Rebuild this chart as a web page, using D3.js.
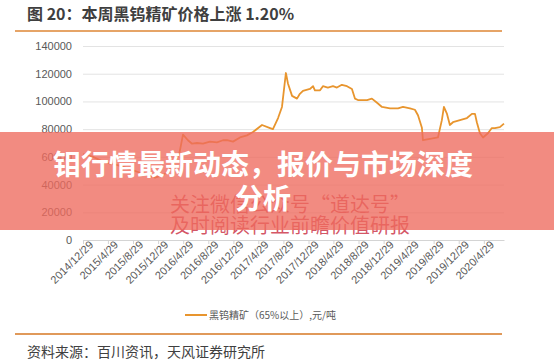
<!DOCTYPE html>
<html lang="zh-CN">
  <head>
    <meta charset="UTF-8" />
    <title>本周黑钨精矿价格上涨</title>
    <style>
      body { margin: 0; background: #fff; }
      svg { display: block; font-family: "Liberation Sans", "Noto Sans CJK SC", sans-serif; }
    </style>
  </head>
  <body>
    <script src="https://d3js.org/d3.v7.min.js"></script>
    <script>
      const width = 554
      const height = 362

      // 黑钨精矿(65%以上) 价格, 元/吨
      const dates = [
        "2014-12-29", "2015-02-16", "2015-04-13", "2015-06-15", "2015-08-17", "2015-10-12",
        "2015-12-14", "2016-01-25", "2016-03-07", "2016-04-11", "2016-04-28", "2016-05-22",
        "2016-06-11", "2016-07-05", "2016-08-03", "2016-09-06", "2016-10-10", "2016-11-08",
        "2016-11-28", "2016-12-27", "2017-01-30", "2017-03-05", "2017-04-03", "2017-05-17",
        "2017-06-25", "2017-07-09", "2017-08-03", "2017-08-22", "2017-09-10", "2017-09-20",
        "2017-10-10", "2017-11-03", "2017-11-17", "2017-12-02", "2018-01-05", "2018-01-20",
        "2018-01-29", "2018-02-23", "2018-03-09", "2018-04-02", "2018-04-27", "2018-05-16",
        "2018-06-09", "2018-07-04", "2018-07-28", "2018-08-12", "2018-08-26", "2018-10-09",
        "2018-11-02", "2018-11-27", "2018-12-21", "2019-01-29", "2019-03-09", "2019-04-02",
        "2019-05-06", "2019-05-30", "2019-06-14", "2019-07-03", "2019-07-08", "2019-08-11",
        "2019-09-19", "2019-10-08", "2019-10-18", "2019-11-02", "2019-11-16", "2019-12-01",
        "2020-01-04", "2020-02-07", "2020-03-02", "2020-03-17", "2020-03-26", "2020-04-10",
        "2020-04-25", "2020-05-19", "2020-06-07", "2020-06-22", "2020-07-16", "2020-08-05"
      ]
      const prices = [
        62000, 60000, 56000, 54000, 51000, 48000,
        45000, 47000, 53000, 63000, 76000, 72000,
        69500, 70000, 69500, 71000, 70500, 72000,
        72000, 71000, 74000, 75500, 77900, 83000,
        80800, 80000, 88000, 96000, 120500, 113000,
        104000, 102000, 105500, 107600, 109000, 111000,
        108000, 108000, 111000, 110000, 111000, 110000,
        112000, 111000, 109000, 102000, 101000, 101000,
        102000, 99000, 96000, 95000, 95000, 96000,
        95000, 94000, 90000, 81000, 72000, 73000,
        74000, 86500, 96000, 91000, 83000, 85000,
        86500, 88000, 91000, 91000, 85000, 77000,
        74000, 77000, 80800, 80800, 81500, 84000
      ]
      const xTickLabels = [
        "2014/12/29", "2015/4/29", "2015/8/29", "2015/12/29", "2016/4/29", "2016/8/29",
        "2016/12/29", "2017/4/29", "2017/8/29", "2017/12/29", "2018/4/29", "2018/8/29",
        "2018/12/29", "2019/4/29", "2019/8/29", "2019/12/29", "2020/4/29"
      ]
      const yTicks = [0, 20000, 40000, 60000, 80000, 100000, 120000, 140000]

      const parseDate = d3.timeParse("%Y-%m-%d")
      const parseTick = d3.timeParse("%Y/%m/%d")
      const data = dates.map((d, i) => ({ date: parseDate(d), value: prices[i] }))

      const svg = d3.select("body").append("svg")
        .attr("width", width)
        .attr("height", height)

      // 标题
      svg.append("text")
        .attr("x", 27)
        .attr("y", 20)
        .attr("fill", "#3f3f3f")
        .style("font-family", "'Noto Sans CJK SC', sans-serif")
        .style("font-size", "16px")
        .style("font-weight", "bold")
        .text("图 20：本周黑钨精矿价格上涨 1.20%")

      svg.append("line")
        .attr("x1", 15).attr("x2", 502)
        .attr("y1", 31).attr("y2", 31)
        .attr("stroke", "#e6a467")
        .attr("stroke-width", 2)

      const x = d3.scaleTime()
        .domain([parseDate("2014-12-29"), parseDate("2020-08-05")])
        .range([83, 504])

      const y = d3.scaleLinear()
        .domain([0, 140000])
        .range([240, 46])

      // y 轴 + 网格线
      const yAxis = svg.append("g")
        .attr("transform", "translate(83,0)")
        .call(d3.axisLeft(y).tickValues(yTicks).tickSize(-(504 - 83)).tickPadding(11).tickFormat(d3.format("d")))
      yAxis.select(".domain").remove()
      yAxis.selectAll(".tick line").attr("stroke", "#e3e3e3")
      yAxis.selectAll(".tick text")
        .attr("fill", "#595959")
        .style("font-size", "11px")

      // x 轴
      const tickDates = xTickLabels.map(parseTick)
      const xAxis = svg.append("g")
        .attr("transform", "translate(0,240)")
        .call(d3.axisBottom(x).tickValues(tickDates).tickSize(4).tickSizeOuter(0)
          .tickFormat((d, i) => xTickLabels[i]))
      xAxis.select(".domain").attr("stroke", "#d4d4d4")
      xAxis.selectAll(".tick line").attr("stroke", "#d4d4d4")
      xAxis.selectAll(".tick text")
        .attr("fill", "#595959")
        .style("font-size", "11px")
        .attr("text-anchor", "end")
        .attr("transform", "translate(3,-2) rotate(-45)")
        .attr("dx", 0)
        .attr("dy", "0.6em")
        .attr("y", 4)

      // 价格线
      const line = d3.line()
        .x(d => x(d.date))
        .y(d => y(d.value))
      svg.append("path")
        .datum(data)
        .attr("d", line)
        .attr("fill", "none")
        .attr("stroke", "#e8952e")
        .attr("stroke-width", 1.8)
        .attr("stroke-linejoin", "round")

      // 图例
      svg.append("line")
        .attr("x1", 185).attr("x2", 207)
        .attr("y1", 315).attr("y2", 315)
        .attr("stroke", "#e8952e")
        .attr("stroke-width", 2)
      svg.append("text")
        .attr("x", 209)
        .attr("y", 319)
        .attr("fill", "#595959")
        .style("font-family", "'Noto Sans CJK SC', sans-serif")
        .style("font-size", "10px")
        .text("黑钨精矿（65%以上）,元/吨")

      svg.append("line")
        .attr("x1", 15).attr("x2", 502)
        .attr("y1", 334).attr("y2", 334)
        .attr("stroke", "#e0995a")
        .attr("stroke-width", 2)

      svg.append("text")
        .attr("x", 27)
        .attr("y", 357)
        .attr("fill", "#404040")
        .style("font-family", "'Noto Sans CJK SC', sans-serif")
        .style("font-size", "14px")
        .text("资料来源：百川资讯，天风证券研究所")

      // 水印
      const mark = svg.append("g")
        .attr("fill", "#c8283c")
        .attr("fill-opacity", 0.78)
        .style("font-family", "'Noto Sans CJK SC', sans-serif")
        .style("font-size", "20px")
      mark.append("text").attr("x", 170).attr("y", 212).text("关注微信公众号“道达号”")
      mark.append("text").attr("x", 170).attr("y", 233).text("及时阅读行业前瞻价值研报")

      // 横幅
      svg.append("rect")
        .attr("x", 0).attr("y", 132)
        .attr("width", width).attr("height", 98)
        .attr("fill", "#ee6a5e")
        .attr("fill-opacity", 0.78)

      const banner = svg.append("g")
        .attr("fill", "#fff")
        .attr("text-anchor", "middle")
        .style("font-family", "'Noto Sans CJK SC', sans-serif")
        .style("font-size", "28px")
        .style("font-weight", "bold")
      banner.append("text").attr("x", 263).attr("y", 175).text("钼行情最新动态，报价与市场深度")
      banner.append("text").attr("x", 263).attr("y", 209).text("分析")
    </script>
  </body>
</html>
